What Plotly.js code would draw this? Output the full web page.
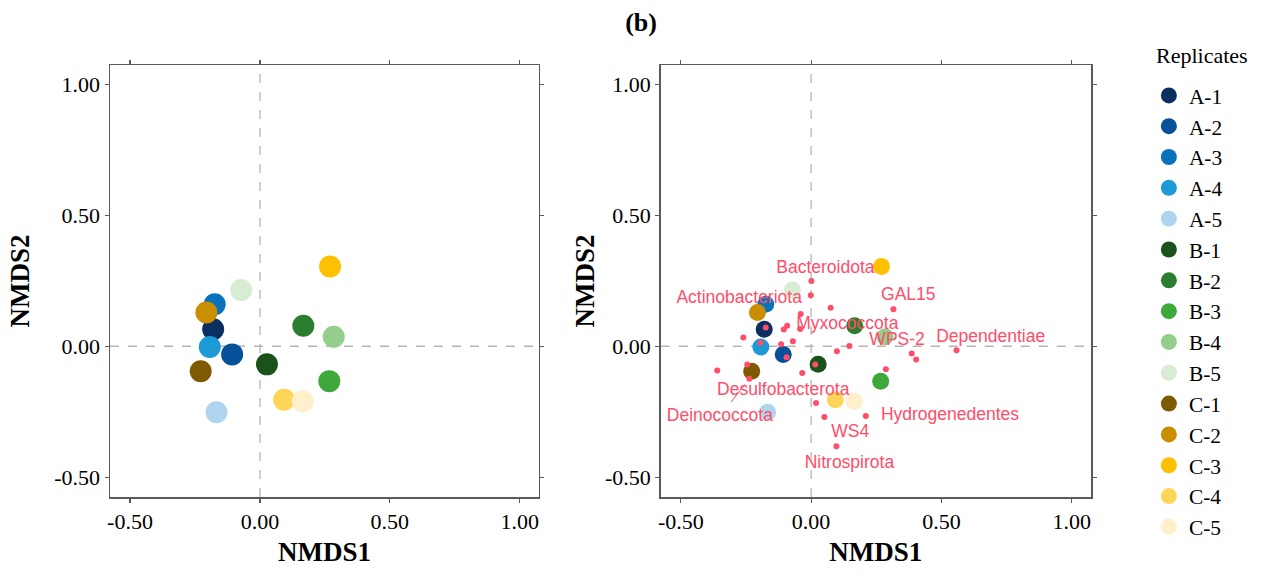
<!DOCTYPE html>
<html>
<head>
<meta charset="utf-8">
<script src="https://cdn.plot.ly/plotly-3.0.1.min.js"></script>
<style>
  html, body { margin: 0; padding: 0; background: #fff; }
  #chart { width: 1267px; height: 579px; }
</style>
</head>
<body>
<div id="chart"></div>
<script>
// ---------- data ----------
const sampleNames = ["A-1","A-2","A-3","A-4","A-5","B-1","B-2","B-3","B-4","B-5","C-1","C-2","C-3","C-4","C-5"];
const sampleX = [-0.180, -0.107, -0.174, -0.193, -0.167, 0.027, 0.167, 0.267, 0.284, -0.072, -0.228, -0.206, 0.270, 0.093, 0.165];
const sampleY = [0.065, -0.031, 0.160, -0.003, -0.252, -0.069, 0.078, -0.133, 0.036, 0.215, -0.095, 0.129, 0.304, -0.204, -0.210];
const sampleColors = ["#0B2F60","#07519B","#0A72BB","#1C9AD6","#AED4EE",
                      "#1B5219","#2A7E2E","#3EA83B","#93CE8A","#D7EDD3",
                      "#7E5A02","#C98F00","#FFC000","#FFD557","#FFEFCB"];

// phylum (species) scores
const phylumX = [0.001, -0.001, 0.075, -0.040, 0.316, -0.174, -0.105, -0.092, -0.042, -0.260,
                 -0.070, -0.194, -0.115, 0.147, 0.099, -0.094, 0.386, 0.403, 0.558, 0.016,
                 -0.245, -0.360, -0.237, -0.034, 0.287, 0.019, 0.051, 0.210, 0.097];
const phylumY = [0.249, 0.195, 0.147, 0.123, 0.141, 0.072, 0.064, 0.078, 0.066, 0.033,
                 0.019, 0.013, 0.008, 0.001, -0.019, -0.042, -0.028, -0.050, -0.015, -0.070,
                 -0.070, -0.092, -0.124, -0.102, -0.088, -0.216, -0.270, -0.266, -0.381];

// labelled phyla and their label coordinates
const labelNames = ["Bacteroidota","Actinobacteriota","GAL15","Myxococcota","WPS-2","Dependentiae",
                    "Desulfobacterota","Deinococcota","Hydrogenedentes","WS4","Nitrospirota"];
const labelX = [0.055, -0.276, 0.373, 0.139, 0.330, 0.689, -0.107, -0.350, 0.533, 0.150, 0.147];
const labelY = [0.298, 0.183, 0.192, 0.083, 0.022, 0.033, -0.169, -0.268, -0.266, -0.328, -0.446];
// leader segment: Deinococcota point -> label
const leaderPoint = 22;
const leaderEnd = [-0.312, -0.219];

const tickVals = [-0.5, 0, 0.5, 1.0];
const tickText = ["-0.50", "0.00", "0.50", "1.00"];
const legendTitle = "Replicates";

// ---------- styling ----------
const SERIF = "'Liberation Serif', 'Times New Roman', serif";
const SANS = "'Liberation Sans', Arial, sans-serif";
const RED = "#FF4D6A";
const FRAME = "#5a5a5a";

const traces = [];
sampleNames.forEach((n, i) => {
  traces.push({
    type: "scatter", mode: "markers", name: n,
    x: [sampleX[i]], y: [sampleY[i]], xaxis: "x", yaxis: "y",
    marker: { size: 22, color: sampleColors[i], line: { width: 0 } },
    showlegend: true, hoverinfo: "name"
  });
});
sampleNames.forEach((n, i) => {
  traces.push({
    type: "scatter", mode: "markers", name: n,
    x: [sampleX[i]], y: [sampleY[i]], xaxis: "x2", yaxis: "y2",
    marker: { size: 17, color: sampleColors[i], line: { width: 0 } },
    showlegend: false, hoverinfo: "name"
  });
});
traces.push({
  type: "scatter", mode: "markers", name: "phyla",
  x: phylumX, y: phylumY, xaxis: "x2", yaxis: "y2",
  marker: { size: 6, color: RED }, showlegend: false, hoverinfo: "x+y"
});
traces.push({
  type: "scatter", mode: "text", name: "labels",
  x: labelX, y: labelY, text: labelNames, xaxis: "x2", yaxis: "y2",
  textposition: "middle center",
  textfont: { family: SANS, size: 17.5, color: RED },
  showlegend: false, hoverinfo: "skip"
});

function axisX(domain, anchor) {
  return {
    domain: domain, anchor: anchor, range: [-0.577, 1.074],
    tickmode: "array", tickvals: tickVals, ticktext: tickText,
    ticks: "outside", ticklen: 4, tickwidth: 1.2, tickcolor: FRAME,
    showline: true, linecolor: FRAME, linewidth: 1.5, mirror: "ticks",
    showgrid: false, zeroline: false,
    tickfont: { family: SERIF, size: 22, color: "#000" },
    title: { text: "<b>NMDS1</b>", font: { family: SERIF, size: 27, color: "#000" }, standoff: 9 }
  };
}
function axisY(anchor, standoff) {
  return {
    domain: [0, 1], anchor: anchor, range: [-0.575, 1.073],
    tickmode: "array", tickvals: tickVals, ticktext: tickText,
    ticks: "outside", ticklen: 4, tickwidth: 1.2, tickcolor: FRAME,
    showline: true, linecolor: FRAME, linewidth: 1.5, mirror: "ticks",
    showgrid: false, zeroline: false,
    tickfont: { family: SERIF, size: 22, color: "#000" },
    title: { text: "<b>NMDS2</b>", font: { family: SERIF, size: 27, color: "#000" }, standoff: standoff }
  };
}

const dash = { color: "#b5b5b5", width: 1.3, dash: "dash" };
const shapes = [
  { type: "line", xref: "x", yref: "y domain", x0: 0, x1: 0, y0: 0, y1: 1, line: dash, layer: "below" },
  { type: "line", xref: "x domain", yref: "y", x0: 0, x1: 1, y0: 0, y1: 0, line: dash, layer: "below" },
  { type: "line", xref: "x2", yref: "y2 domain", x0: 0, x1: 0, y0: 0, y1: 1, line: dash, layer: "below" },
  { type: "line", xref: "x2 domain", yref: "y2", x0: 0, x1: 1, y0: 0, y1: 0, line: dash, layer: "below" }
];

const annotations = [{
  xref: "x2", yref: "y2", axref: "x2", ayref: "y2",
  x: phylumX[leaderPoint], y: phylumY[leaderPoint],
  ax: leaderEnd[0], ay: leaderEnd[1],
  text: "", showarrow: true, arrowhead: 0, arrowwidth: 1, arrowcolor: RED, standoff: 7
}, {
  xref: "paper", yref: "paper", x: 1.1127, y: 1.0231, xanchor: "center", yanchor: "middle",
  text: legendTitle, showarrow: false, font: { family: SERIF, size: 22, color: "#000" }
}];

const layout = {
  width: 1267, height: 579,
  margin: { l: 110, r: 176, t: 65, b: 82, autoexpand: false },
  paper_bgcolor: "#fff", plot_bgcolor: "#fff",
  title: {
    text: "<b>(b)</b>", font: { family: SERIF, size: 26, color: "#000" },
    xref: "container", yref: "container", x: 0.506, y: 0.962, xanchor: "center", yanchor: "middle"
  },
  xaxis: axisX([0, 0.4373], "y"),
  yaxis: axisY("x", 17),
  xaxis2: axisX([0.5614, 1], "y2"),
  yaxis2: axisY("x2", 2),
  shapes: shapes,
  annotations: annotations,
  showlegend: true,
  legend: {
    x: 1.059, xanchor: "left",
    yref: "container", y: 0.8705, yanchor: "top",
    maxheight: 560,
    font: { family: SERIF, size: 21.4, color: "#000" },
    itemsizing: "trace", bgcolor: "rgba(0,0,0,0)", traceorder: "normal"
  }
};

Plotly.newPlot("chart", traces, layout, { displayModeBar: false, staticPlot: true });
</script>
</body>
</html>
